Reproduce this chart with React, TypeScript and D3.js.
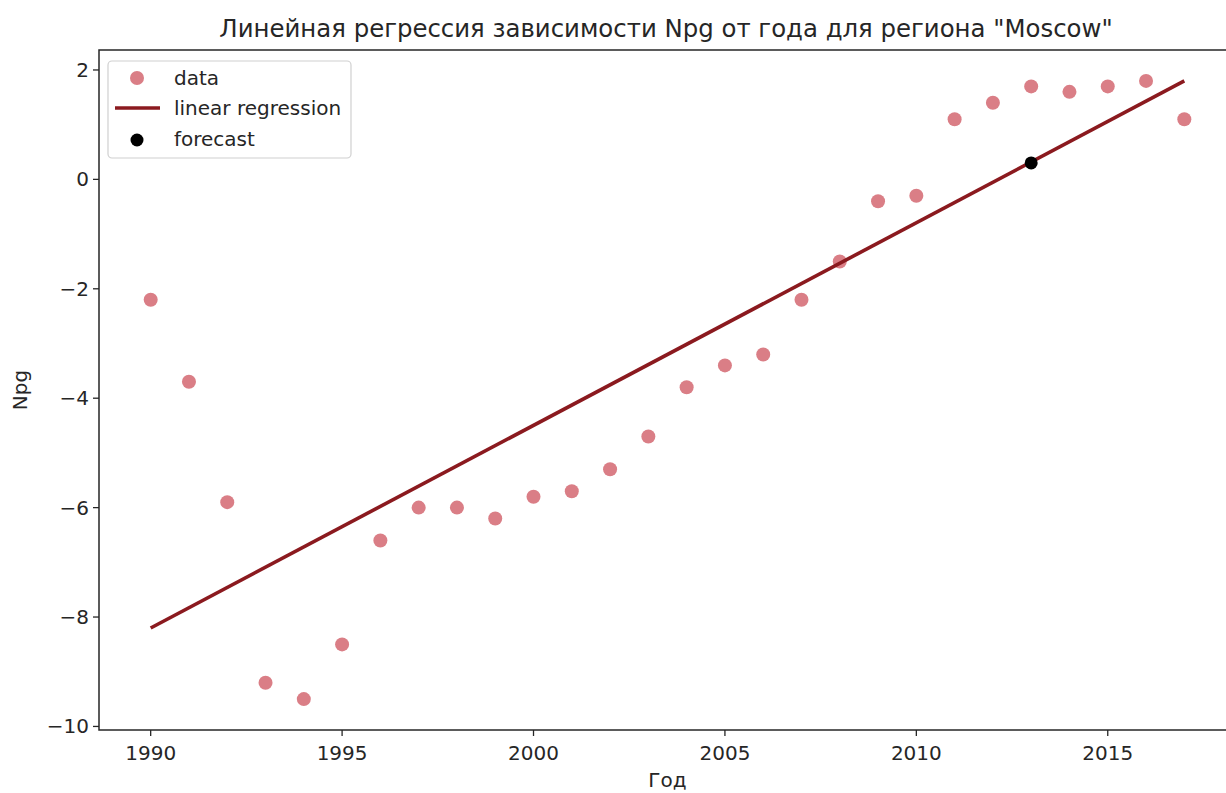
import React, { useEffect } from 'react';
import * as d3 from 'd3';

// Npg values for Moscow, by year
const years = [1990, 1991, 1992, 1993, 1994, 1995, 1996, 1997, 1998, 1999, 2000, 2001, 2002, 2003,
  2004, 2005, 2006, 2007, 2008, 2009, 2010, 2011, 2012, 2013, 2014, 2015, 2016, 2017];
const npg = [-2.2, -3.7, -5.9, -9.2, -9.5, -8.5, -6.6, -6.0, -6.0, -6.2, -5.8, -5.7, -5.3, -4.7,
  -3.8, -3.4, -3.2, -2.2, -1.5, -0.4, -0.3, 1.1, 1.4, 1.7, 1.6, 1.7, 1.8, 1.1];

// regression line end points
const lineYears = [1990, 2017];
const lineValues = [-8.2, 1.8];

// forecast point
const forecastYear = [2013];
const forecastValue = [0.3];

const xTicks = [1990, 1995, 2000, 2005, 2010, 2015];
const yTicks = [-10, -8, -6, -4, -2, 0, 2];

const width = 1226;
const height = 793;
const margin = { top: 50, right: -10, bottom: 63, left: 99 };

const font = 'DejaVu Sans, sans-serif';
const textColor = '#262626';
const dotColor = '#da7e86';
const lineColor = '#8b1a1f';
const fs = 20;

const App: React.FC = () => {
  useEffect(() => {
    document.body.style.margin = '0';
  }, []);

  const x = d3.scaleLinear()
    .domain([1988.65, 2018.35])
    .range([margin.left, width - margin.right]);

  const y = d3.scaleLinear()
    .domain([-10.065, 2.365])
    .range([height - margin.bottom, margin.top]);

  const line = d3.line<number>()
    .x((d, i) => x(lineYears[i]))
    .y(d => y(d));

  const fmt = (v: number) => (v < 0 ? '\u2212' + Math.abs(v) : String(v));

  const x0 = x.range()[0];
  const x1 = x.range()[1];
  const yTop = y.range()[1];
  const yBot = y.range()[0];

  return (
    <svg width={width} height={height} style={{ display: 'block', background: '#fff' }}>
      <text x={666} y={37} textAnchor="middle" fontFamily={font} fontSize={24.4} fill={textColor}>
        Линейная регрессия зависимости Npg от года для региона "Moscow"
      </text>

      {/* points */}
      {years.map((yr, i) => (
        <circle key={yr} cx={x(yr)} cy={y(npg[i])} r={7} fill={dotColor} />
      ))}

      <path d={line(lineValues) ?? ''} fill="none" stroke={lineColor} strokeWidth={3.6} />

      {forecastYear.map((yr, i) => (
        <circle key={'f' + yr} cx={x(yr)} cy={y(forecastValue[i])} r={6.5} fill="#000" />
      ))}

      {/* spines */}
      <rect x={x0} y={yTop} width={x1 - x0} height={yBot - yTop} fill="none" stroke={textColor} strokeWidth={1.5} />

      {/* x axis */}
      {xTicks.map(t => (
        <g key={'x' + t} transform={`translate(${x(t)},${yBot})`}>
          <line y2={6} stroke={textColor} strokeWidth={1.3} />
          <text y={30} textAnchor="middle" fontFamily={font} fontSize={fs} fill={textColor}>{t}</text>
        </g>
      ))}

      {/* y axis */}
      {yTicks.map(t => (
        <g key={'y' + t} transform={`translate(${x0},${y(t)})`}>
          <line x2={-6} stroke={textColor} strokeWidth={1.3} />
          <text x={-10} dy="0.35em" textAnchor="end" fontFamily={font} fontSize={fs} fill={textColor}>{fmt(t)}</text>
        </g>
      ))}

      <text x={(x0 + 1236) / 2} y={787} textAnchor="middle" fontFamily={font} fontSize={fs} fill={textColor}>Год</text>
      <text transform={`translate(27,${(yTop + yBot) / 2}) rotate(-90)`} textAnchor="middle" fontFamily={font} fontSize={fs} fill={textColor}>Npg</text>

      {/* legend */}
      <g>
        <rect x={108} y={61} width={243} height={97} rx={4} fill="#fff" fillOpacity={0.8} stroke="#d0d0d0" strokeWidth={1.2} />
        <circle cx={137} cy={78} r={7} fill={dotColor} />
        <text x={174} y={78} dy="0.35em" fontFamily={font} fontSize={fs} fill={textColor}>data</text>
        <line x1={115} x2={160} y1={108} y2={108} stroke={lineColor} strokeWidth={3.6} />
        <text x={174} y={108} dy="0.35em" fontFamily={font} fontSize={fs} fill={textColor}>linear regression</text>
        <circle cx={137} cy={140} r={6.5} fill="#000" />
        <text x={174} y={139} dy="0.35em" fontFamily={font} fontSize={fs} fill={textColor}>forecast</text>
      </g>
    </svg>
  );
};

export default App;
